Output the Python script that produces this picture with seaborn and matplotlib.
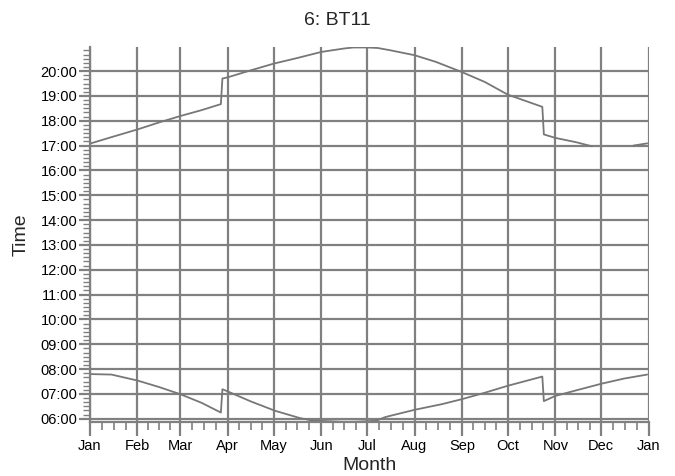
import numpy as np
import pandas as pd
import matplotlib
matplotlib.use("Agg")
import matplotlib.pyplot as plt
import seaborn as sns
from matplotlib.ticker import FixedLocator, FuncFormatter

# ---- data (day of year, time in decimal hours) ----
month_labels = ["Jan", "Feb", "Mar", "Apr", "May", "Jun", "Jul", "Aug", "Sep", "Oct", "Nov", "Dec", "Jan"]
month_starts = [0, 31, 59, 90, 120, 151, 181, 212, 243, 273, 304, 334, 365]

sunset_days = [0, 14, 31, 45, 59, 73, 85.5, 86.5, 90, 105, 120, 135, 151, 166, 172, 181, 188, 196,
               212, 226, 243, 258, 273, 295.5, 296.5, 304, 318, 328, 340, 355, 364]
sunset_hours = [17.08, 17.34, 17.65, 17.93, 18.19, 18.43, 18.67, 19.70, 19.75, 20.03, 20.30, 20.52,
                20.77, 20.91, 20.95, 20.95, 20.93, 20.84, 20.64, 20.37, 19.96, 19.56, 19.05,
                18.56, 17.45, 17.31, 17.13, 16.97, np.nan, 17.00, 17.09]

sunrise_days = [0, 14, 31, 45, 59, 73, 85.5, 86.5, 90, 105, 121, 137, 145, 153, 165, 172, 180, 187,
                193, 212, 230, 243, 258, 273, 295.5, 296.5, 304, 318, 334, 349, 364]
sunrise_hours = [7.80, 7.78, 7.54, 7.28, 6.99, 6.64, 6.25, 7.19, 7.10, 6.70, 6.32, 6.03, 5.93, 5.91,
                 5.88, 5.88, 5.90, 5.92, 6.07, 6.36, 6.59, 6.79, 7.05, 7.33, 7.70, 6.71, 6.92,
                 7.15, 7.41, 7.62, 7.78]

hour_ticks = list(range(6, 21))


def to_frame(days, hours, name):
    df = pd.DataFrame({"day": days, "hours": hours})
    seg = df["hours"].isna().cumsum()
    df["unit"] = [f"{name}-{s}" for s in seg]
    return df.dropna()


sunset = to_frame(sunset_days, sunset_hours, "set")
sunrise = to_frame(sunrise_days, sunrise_hours, "rise")
data = pd.concat([sunset, sunrise], ignore_index=True)

sns.set_theme(style="white")
plt.rcParams["font.family"] = ["Liberation Sans", "DejaVu Sans"]

grid_c = "#808080"
fig = plt.figure(figsize=(6.75, 4.76), dpi=100)
ax = fig.add_axes([90 / 675, 1 - 422 / 476, (648.7 - 90) / 675, (422 - 47) / 476])

sns.lineplot(data=data, x="day", y="hours", units="unit", estimator=None, sort=False,
             color="#777777", linewidth=1.3, ax=ax, legend=False)

ax.set_xlim(0, 365)
ax.set_ylim(5.87, 20.97)

ax.xaxis.set_major_locator(FixedLocator(month_starts))
ax.set_xticklabels(month_labels)
minor_x = []
for a, b in zip(month_starts[:-1], month_starts[1:]):
    minor_x += [a + (b - a) * k / 4 for k in (1, 2, 3)]
ax.xaxis.set_minor_locator(FixedLocator(minor_x))

ax.yaxis.set_major_locator(FixedLocator(hour_ticks))
ax.yaxis.set_major_formatter(FuncFormatter(lambda v, p: f"{int(round(v)):02d}:00"))
minor_y = [h + m / 60 for h in range(5, 21) for m in (10, 20, 30, 40, 50)]
minor_y = [v for v in minor_y if 5.87 <= v <= 20.97]
ax.yaxis.set_minor_locator(FixedLocator(minor_y))

ax.grid(True, which="major", color=grid_c, linewidth=1.6)
for s in ["top", "right"]:
    ax.spines[s].set_visible(False)
for s in ["left", "bottom"]:
    ax.spines[s].set_color(grid_c)
    ax.spines[s].set_linewidth(1.6)

ax.tick_params(axis="both", which="both", colors=grid_c, labelcolor="black", labelsize=10.5)
ax.tick_params(axis="x", which="major", length=10, width=1.6, direction="out", bottom=True, pad=2)
ax.tick_params(axis="x", which="minor", length=6, width=1.2, direction="out", bottom=True)
ax.tick_params(axis="y", which="major", length=8, width=1.6, direction="out", left=True, pad=1)
ax.tick_params(axis="y", which="minor", length=5, width=1.0, direction="out", left=True)

ax.set_xlabel("Month", fontsize=14, labelpad=3)
ax.set_ylabel("Time", fontsize=14, labelpad=8)
fig.suptitle("6: BT11", x=0.5, y=0.975, fontsize=14)

fig.savefig("out.png", dpi=100)
